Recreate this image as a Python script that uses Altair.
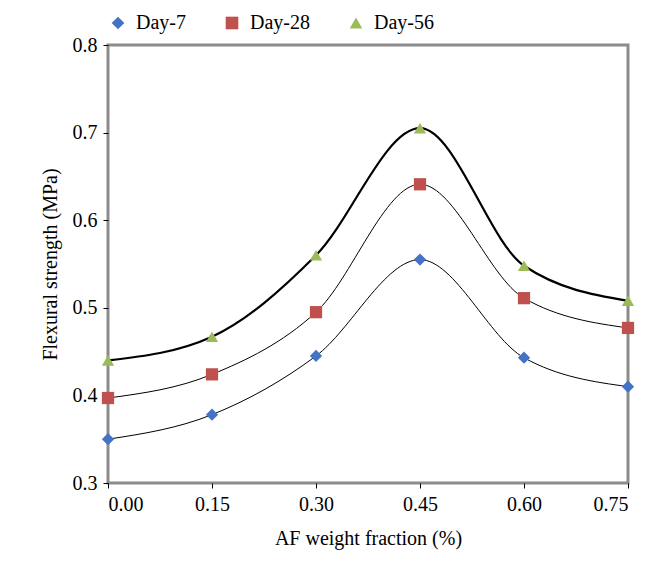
import pandas as pd
import altair as alt

FONT = "Liberation Serif"

fractions = [0.00, 0.15, 0.30, 0.45, 0.60, 0.75]
day7 = [0.350, 0.378, 0.445, 0.555, 0.443, 0.410]
day28 = [0.397, 0.424, 0.495, 0.641, 0.511, 0.477]
day56 = [0.440, 0.467, 0.560, 0.705, 0.548, 0.508]
series = ["Day-7", "Day-28", "Day-56"]
colors = ["#4472C4", "#C0504D", "#9BBB59"]
shapes = ["diamond", "square", "triangle-up"]

rows = []
for name, vals in zip(series, [day7, day28, day56]):
    for f, v in zip(fractions, vals):
        rows.append({"frac": f, "strength": v, "series": name})
df = pd.DataFrame(rows)

x = alt.X("frac:Q", title="AF weight fraction (%)",
          scale=alt.Scale(domain=[0, 0.75]),
          axis=alt.Axis(values=fractions, format=".2f", grid=False, titlePadding=14))
y = alt.Y("strength:Q", title="Flexural strength (MPa)",
          scale=alt.Scale(domain=[0.3, 0.8]),
          axis=alt.Axis(values=[0.3, 0.4, 0.5, 0.6, 0.7, 0.8], format=".1f", grid=False, titlePadding=12))

base = alt.Chart(df)
thin = base.mark_line(interpolate="monotone", color="black", strokeWidth=1).encode(
    x=x, y=y, detail="series:N"
).transform_filter(alt.datum.series != "Day-56")
thick = base.mark_line(interpolate="monotone", color="black", strokeWidth=2.2).encode(
    x=x, y=y
).transform_filter(alt.datum.series == "Day-56")

points = base.mark_point(filled=True, size=150, opacity=1).encode(
    x=x, y=y,
    color=alt.Color("series:N", scale=alt.Scale(domain=series, range=colors),
                    legend=alt.Legend(title=None, orient="top", direction="horizontal",
                                      offset=12, symbolSize=160, symbolOpacity=1,
                                      labelFontSize=20, labelFont=FONT, columnPadding=36,
                                      labelOffset=8)),
    shape=alt.Shape("series:N", scale=alt.Scale(domain=series, range=shapes)),
)

chart = (
    alt.layer(thin, thick, points)
    .properties(width=520, height=438, padding={"left": 32, "top": 5, "right": 5, "bottom": 5})
    .configure_view(stroke="#8C8C8C", strokeWidth=3)
    .configure_axis(labelFont=FONT, titleFont=FONT, labelFontSize=20, titleFontSize=20,
                    titleFontWeight="normal", labelColor="black", titleColor="black",
                    domain=False, tickColor="black", tickSize=5, labelPadding=6)
)

chart.save("out.html", embed_options={"renderer": "svg", "actions": False})
